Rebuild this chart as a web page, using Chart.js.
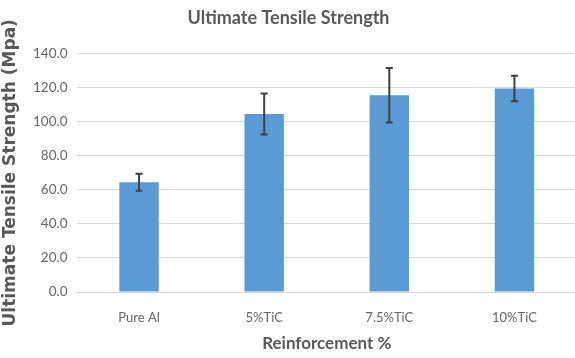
<!DOCTYPE html>
<html>
<head>
<meta charset="utf-8">
<script src="https://cdn.jsdelivr.net/npm/chart.js@4"></script>
<style>
  html, body { margin: 0; padding: 0; background: #fff; overflow: hidden; }
  #wrap { width: 577px; height: 358px; }
</style>
</head>
<body>
<div id="wrap"><canvas id="chart" width="577" height="358"></canvas></div>
<script>
// data
const categories = ['Pure Al', '5%TiC', '7.5%TiC', '10%TiC'];
const strength = [64.5, 104.5, 115.5, 119.5];   // Mpa
const errors = [5, 12, 16, 7.5];                 // +/- error bar
const yTicks = [0, 20, 40, 60, 80, 100, 120, 140];

const grey = '#595959';

// draws the +/- error bars on top of each bar
const errorBars = {
    id: 'errorBars',
    afterDatasetsDraw(chart) {
        const ctx = chart.ctx;
        const y = chart.scales.y;
        const meta = chart.getDatasetMeta(0);
        ctx.save();
        ctx.strokeStyle = '#404040';
        ctx.lineWidth = 2;
        meta.data.forEach(function(bar, i) {
            const top = y.getPixelForValue(strength[i] + errors[i]);
            const bot = y.getPixelForValue(strength[i] - errors[i]);
            const x = bar.x;
            ctx.beginPath();
            ctx.moveTo(x, top); ctx.lineTo(x, bot);
            ctx.moveTo(x - 3.5, top); ctx.lineTo(x + 3.5, top);
            ctx.moveTo(x - 3.5, bot); ctx.lineTo(x + 3.5, bot);
            ctx.stroke();
        });
        ctx.restore();
    }
};

new Chart(document.getElementById('chart'), {
    type: 'bar',
    data: {
        labels: categories,
        datasets: [{
            label: 'Ultimate Tensile Strength',
            data: strength,
            backgroundColor: '#5b9bd5',
            borderWidth: 0,
            barPercentage: 0.315,
            categoryPercentage: 1
        }]
    },
    options: {
        responsive: false,
        animation: false,
        layout: { padding: 0 },
        plugins: {
            legend: { display: false },
            tooltip: { enabled: false },
            title: {
                display: true,
                text: 'Ultimate Tensile Strength',
                color: grey,
                font: { family: 'Lato', size: 18, weight: 'bold' },
                padding: { top: 7, bottom: 25 }
            }
        },
        scales: {
            x: {
                grid: { display: false },
                border: { color: '#d9d9d9', width: 1 },
                ticks: {
                    color: '#666666',
                    padding: 10,
                    font: { family: 'Lato', size: 13 }
                },
                title: {
                    display: true,
                    text: 'Reinforcement %',
                    color: grey,
                    font: { family: 'Lato', size: 17, weight: 'bold' },
                    padding: { top: 0, bottom: 4 }
                },
                afterFit: function(s) { s.height = 66; }
            },
            y: {
                min: 0,
                max: 140,
                afterBuildTicks: function(s) { s.ticks = yTicks.map(v => ({ value: v })); },
                grid: { color: '#d9d9d9', lineWidth: 1, drawTicks: false },
                border: { display: false },
                ticks: {
                    color: '#666666',
                    padding: 9,
                    font: { family: 'Lato', size: 13.5 },
                    callback: v => v.toFixed(1)
                },
                title: {
                    display: true,
                    text: 'Ultimate Tensile Strength (Mpa)',
                    color: grey,
                    font: { family: 'DejaVu Sans', size: 17, weight: 'bold' },
                    padding: { top: 0, bottom: 0 }
                },
                afterFit: function(s) { s.width = 76.5; }
            }
        }
    },
    plugins: [errorBars]
});
</script>
</body>
</html>
